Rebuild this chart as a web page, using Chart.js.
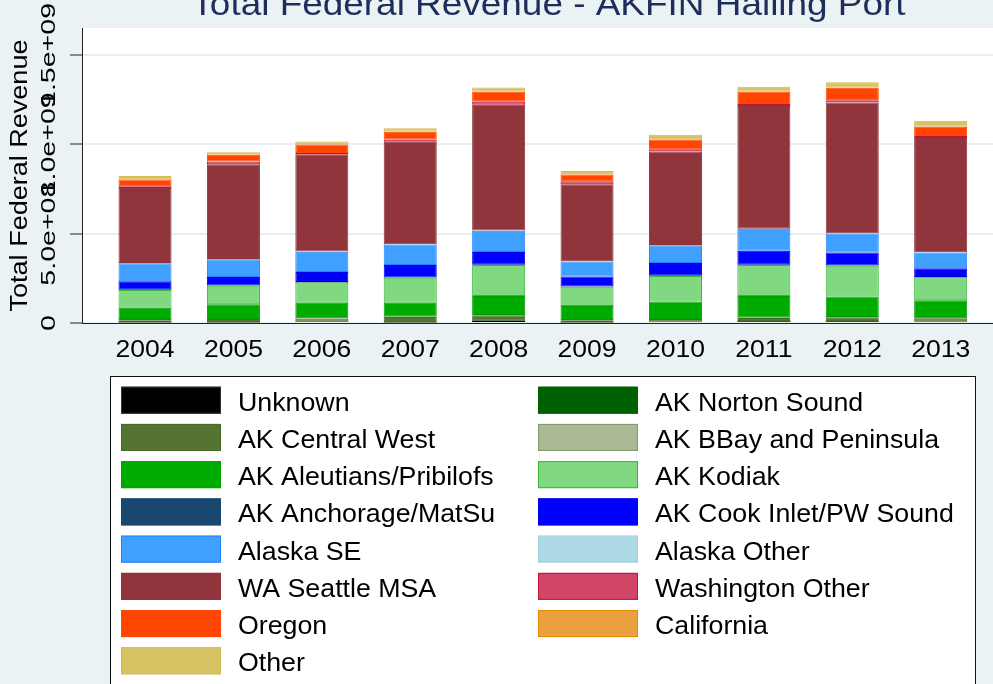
<!DOCTYPE html>
<html><head><meta charset="utf-8">
<script src="https://cdn.jsdelivr.net/npm/chart.js@4.4.1/dist/chart.umd.min.js"></script>
<style>html,body{margin:0;padding:0;background:#eaf2f3;overflow:hidden}canvas{display:block}</style>
</head><body>
<canvas id="c" width="993" height="684"></canvas>
<script>
// ---- data (values in millions of dollars) ----
const years = [2004, 2005, 2006, 2007, 2008, 2009, 2010, 2011, 2012, 2013];
const unknown       = [4, 4, 7, 4, 12, 4, 6, 9, 9, 6];
const nortonSound   = [1, 1, 1, 1, 3, 1, 1, 2, 2, 1];
const centralWest   = [11, 17, 17, 28, 28, 11, 15, 17, 21, 19];
const bbayPeninsula = [1, 1, 1, 2, 2, 1, 1, 2, 2, 1];
const aleutians     = [69, 82, 87, 78, 106, 78, 97, 121, 115, 101];
const kodiak        = [99, 104, 114, 140, 173, 108, 143, 173, 171, 127];
const anchorage     = [1, 1, 2, 2, 2, 1, 2, 2, 2, 2];
const cookInlet     = [48, 48, 56, 69, 71, 56, 71, 78, 73, 50];
const alaskaSE      = [101, 99, 114, 116, 119, 84, 99, 123, 106, 88];
const alaskaOther   = [1, 1, 1, 1, 1, 1, 1, 1, 1, 1];
const seattle       = [419, 531, 542, 573, 704, 432, 524, 686, 732, 639];
const washOther     = [11, 15, 9, 13, 17, 17, 13, 11, 13, 11];
const oregon        = [37, 37, 48, 43, 56, 37, 54, 69, 69, 52];
const california    = [2, 2, 2, 2, 2, 2, 2, 2, 2, 2];
const other         = [18, 13, 15, 18, 22, 17, 24, 26, 30, 32];

const seriesNames = ['Unknown', 'AK Norton Sound', 'AK Central West', 'AK BBay and Peninsula',
  'AK Aleutians/Pribilofs', 'AK Kodiak', 'AK Anchorage/MatSu', 'AK Cook Inlet/PW Sound',
  'Alaska SE', 'Alaska Other', 'WA Seattle MSA', 'Washington Other', 'Oregon', 'California', 'Other'];
const seriesValues = [unknown, nortonSound, centralWest, bbayPeninsula, aleutians, kodiak, anchorage,
  cookInlet, alaskaSE, alaskaOther, seattle, washOther, oregon, california, other];
const seriesFill = ['#000000', '#005f00', '#557431', '#a9b993', '#00ab00', '#80d880', '#1a476f',
  '#0000ff', '#40a0ff', '#add8e6', '#90353b', '#d14566', '#ff4500', '#eb9f3f', '#d7c264'];
const seriesEdge = ['#333333', '#006400', '#4a6a2a', '#7f9a6a', '#00a000', '#34b834', '#1a476f',
  '#0000e6', '#1e84ff', '#a6d2e2', '#90353b', '#c8103c', '#ff4a05', '#e68a00', '#d2b850'];
const seriesOutline = [0, 0, 1, 0, 1, 1, 0, 1, 1, 0, 1, 1, 1, 0, 1];

const yTickValues = [0, 500, 1000, 1500];
const yTickLabels = ['0', '5.0e+08', '1.0e+09', '1.5e+09'];
const chartTitle = 'Total Federal Revenue - AKFIN Hailing Port';
const yAxisTitle = 'Total Federal Revenue';

// ---- styling ----
const FONT = '"Liberation Sans", Arial, Helvetica, sans-serif';
const BG = '#eaf2f3';
const GRID = '#e8eff2';
const AXIS = '#222222';

function drawText(ctx, txt, x, y, size, sx, rotate, align, color) {
  ctx.save();
  ctx.translate(x, y);
  if (rotate) ctx.rotate(-Math.PI / 2);
  ctx.scale(sx, 1);
  ctx.font = size + 'px ' + FONT;
  ctx.fillStyle = color;
  ctx.textAlign = align;
  ctx.textBaseline = 'alphabetic';
  ctx.fillText(txt, 0, 0);
  ctx.restore();
}

const decor = {
  id: 'decor',
  beforeDraw(chart) {
    const ctx = chart.ctx, a = chart.chartArea;
    ctx.save();
    ctx.fillStyle = BG;
    ctx.fillRect(0, 0, chart.width, chart.height);
    ctx.fillStyle = '#ffffff';
    ctx.fillRect(a.left, a.top, a.right - a.left, a.bottom - a.top);
    ctx.restore();
  },
  afterDraw(chart) {
    const ctx = chart.ctx, a = chart.chartArea;
    const xs = chart.scales.x, ys = chart.scales.y;
    drawText(ctx, chartTitle, 548.5, 15, 34, 1.086, false, 'center', '#1e2d5c');
    drawText(ctx, yAxisTitle, 27, (a.top + a.bottom) / 2, 23.5, 1.15, true, 'center', '#000');
    yTickValues.forEach((v, i) => {
      drawText(ctx, yTickLabels[i], 55, ys.getPixelForValue(v), 21, 1.36, true, 'center', '#000');
    });
    years.forEach(y => {
      drawText(ctx, String(y), xs.getPixelForValue(y), 356.5, 23.5, 1.13, false, 'center', '#000');
    });
    ctx.save();
    ctx.fillStyle = '#ffffff';
    ctx.fillRect(110, 376, 865, 320);
    ctx.strokeStyle = '#111';
    ctx.lineWidth = 1;
    ctx.strokeRect(110.5, 376.5, 865, 320);
    ctx.restore();
    chart.data.datasets.forEach((ds, k) => {
      const col = k % 2, row = Math.floor(k / 2);
      const sxp = col === 0 ? 121 : 538;
      const txp = col === 0 ? 238 : 655;
      const top = 386.7 + 37.23 * row;
      ctx.save();
      ctx.fillStyle = ds.backgroundColor;
      ctx.fillRect(sxp, top, 100, 27);
      ctx.strokeStyle = ds.borderColor;
      ctx.lineWidth = 1;
      ctx.strokeRect(sxp + 0.5, top + 0.5, 99, 26);
      ctx.restore();
      drawText(ctx, ds.label, txp, top + 24, 25, 1.07, false, 'left', '#000');
    });
  }
};

new Chart(document.getElementById('c'), {
  type: 'bar',
  data: {
    datasets: seriesNames.map((name, k) => ({
      label: name,
      data: seriesValues[k].map((v, i) => ({ x: years[i], y: v })),
      backgroundColor: seriesFill[k],
      borderColor: seriesEdge[k],
      borderWidth: seriesOutline[k],
      borderSkipped: false,
      categoryPercentage: 1,
      barPercentage: 0.6
    }))
  },
  options: {
    responsive: false,
    devicePixelRatio: 1,
    animation: false,
    layout: { padding: { left: 0, right: 0, top: 28, bottom: 0 } },
    plugins: { legend: { display: false }, title: { display: false }, tooltip: { enabled: false } },
    scales: {
      x: {
        type: 'linear', stacked: true, offset: false,
        min: 2003.287, max: 2013.592,
        afterBuildTicks: s => { s.ticks = years.map(v => ({ value: v })); },
        afterFit: s => { s.height = 684 - 323; },
        ticks: { display: false },
        grid: { display: false, drawTicks: false },
        border: { display: true, color: AXIS, width: 1 }
      },
      y: {
        stacked: true, min: 0, max: 1651,
        afterBuildTicks: s => { s.ticks = yTickValues.map(v => ({ value: v })); },
        afterFit: s => { s.width = 82; },
        ticks: { display: false },
        grid: { color: GRID, lineWidth: 2, drawTicks: true, tickLength: 12, tickColor: AXIS, tickWidth: 1 },
        border: { display: true, color: AXIS, width: 1 }
      }
    }
  },
  plugins: [decor]
});
</script>
</body></html>
